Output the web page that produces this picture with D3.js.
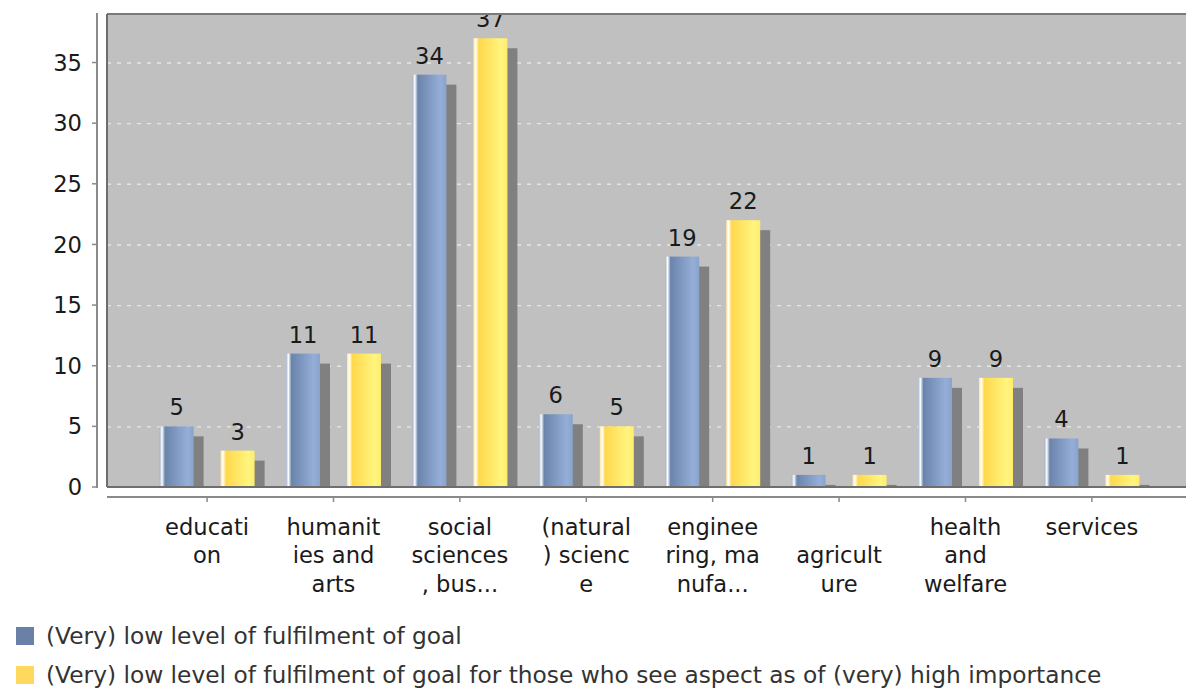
<!DOCTYPE html>
<html><head><meta charset="utf-8">
<script src="https://cdn.jsdelivr.net/npm/d3@7"></script>
<style>body{margin:0;background:#fff;} svg{display:block;font-family:"DejaVu Sans",sans-serif;}</style>
</head><body><svg id="c" width="1186" height="690"></svg>
<script>
const categories = ["education","humanities and arts","social sciences, business and law","(natural) science","engineering, manufacturing and construction","agriculture","health and welfare","services"];
const categoryLabelLines = [["educati","on"],["humanit","ies and","arts"],["social","sciences",", bus..."],["(natural",") scienc","e"],["enginee","ring, ma","nufa..."],["","agricult","ure"],["health","and","welfare"],["services"]];
const seriesNames = ["(Very) low level of fulfilment of goal","(Very) low level of fulfilment of goal for those who see aspect as of (very) high importance"];
const seriesLow = [5,11,34,6,19,1,9,4];
const seriesLowHighImportance = [3,11,37,5,22,1,9,1];
const yTicks = [0,5,10,15,20,25,30,35];

const series = [seriesLow, seriesLowHighImportance];
const svg = d3.select("#c");
const P = {left:107, top:14, right:1192, bottom:487};
const FS = 22.6;
const LFS = 23.3;

const x = d3.scaleBand().domain(categories).range([P.left, P.right]).paddingInner(0).paddingOuter(0.292);
const xs = d3.scaleBand().domain([0,1]).range([-47.5, 47.5]).paddingInner(0.4426);
const y = d3.scaleLinear().domain([0,39]).range([P.bottom, P.top]);

const defs = svg.append("defs");
const gradStops = [
  [["0%","#a3b2cc"],["7%","#ffffff"],["16%","#6b84ab"],["82%","#94aed8"],["100%","#8aa3cd"]],
  [["0%","#ffe793"],["7%","#ffffff"],["16%","#ffd84c"],["82%","#fff57f"],["100%","#ffec6c"]]
];
gradStops.forEach((st,i)=>{
  const g = defs.append("linearGradient").attr("id","g"+i).attr("x1","0").attr("x2","1").attr("y1","0").attr("y2","0");
  st.forEach(s=>g.append("stop").attr("offset",s[0]).attr("stop-color",s[1]));
});
defs.append("clipPath").attr("id","plotClip").append("rect")
  .attr("x",P.left).attr("y",P.top).attr("width",P.right-P.left).attr("height",P.bottom-P.top);

// plot background
svg.append("rect").attr("x",P.left).attr("y",P.top).attr("width",P.right-P.left).attr("height",P.bottom-P.top).attr("fill","#c0c0c0");

// gridlines
svg.append("g").selectAll("line").data(yTicks.filter(t=>t>0)).join("line")
  .attr("x1",P.left).attr("x2",P.right).attr("y1",d=>y(d)+0.5).attr("y2",d=>y(d)+0.5)
  .attr("stroke","#e6e6e6").attr("stroke-width",1.4).attr("stroke-dasharray","4,6");

const plotG = svg.append("g").attr("clip-path","url(#plotClip)");
const SH = 10;
series.forEach((vals,si)=>{
  plotG.append("g").selectAll("rect").data(vals).join("rect")
    .attr("x",(d,i)=>x(categories[i])+x.bandwidth()/2+xs(si)+SH)
    .attr("y",d=>y(d)+SH)
    .attr("width",xs.bandwidth())
    .attr("height",d=>Math.max(0,P.bottom-y(d)))
    .attr("fill","#808080");
});
series.forEach((vals,si)=>{
  plotG.append("g").selectAll("rect").data(vals).join("rect")
    .attr("x",(d,i)=>x(categories[i])+x.bandwidth()/2+xs(si))
    .attr("y",d=>y(d))
    .attr("width",xs.bandwidth())
    .attr("height",d=>P.bottom-y(d))
    .attr("fill","url(#g"+si+")");
});
series.forEach((vals,si)=>{
  plotG.append("g").selectAll("text").data(vals).join("text")
    .attr("x",(d,i)=>x(categories[i])+x.bandwidth()/2+xs(si)+xs.bandwidth()/2)
    .attr("y",d=>y(d)-11)
    .attr("text-anchor","middle").attr("font-size",FS).attr("fill","#1a1a1a")
    .text(d=>d);
});

// plot border
svg.append("line").attr("x1",P.left).attr("x2",P.right).attr("y1",P.top).attr("y2",P.top).attr("stroke","#7a7a7a").attr("stroke-width",2);
svg.append("line").attr("x1",P.left).attr("x2",P.left).attr("y1",P.top).attr("y2",P.bottom).attr("stroke","#6e6e6e").attr("stroke-width",2);
svg.append("line").attr("x1",P.left).attr("x2",P.right).attr("y1",P.bottom).attr("y2",P.bottom).attr("stroke","#6e6e6e").attr("stroke-width",2);

// y axis
const yAxisG = svg.append("g");
yAxisG.append("line").attr("x1",97).attr("x2",97).attr("y1",P.top-1).attr("y2",P.bottom+1).attr("stroke","#8a8a8a").attr("stroke-width",2);
yAxisG.selectAll("line.t").data(yTicks).join("line").attr("class","t")
  .attr("x1",92).attr("x2",97).attr("y1",d=>y(d)).attr("y2",d=>y(d)).attr("stroke","#8a8a8a").attr("stroke-width",1.5);
yAxisG.selectAll("text").data(yTicks).join("text")
  .attr("x",82).attr("y",d=>y(d)).attr("dy","0.36em").attr("text-anchor","end")
  .attr("font-size",FS).attr("fill","#1a1a1a").text(d=>d);

// x axis
const xAxisY = 497;
svg.append("line").attr("x1",P.left).attr("x2",P.right).attr("y1",xAxisY).attr("y2",xAxisY).attr("stroke","#8a8a8a").attr("stroke-width",2);
svg.append("g").selectAll("line").data(categories).join("line")
  .attr("x1",d=>x(d)+x.bandwidth()/2).attr("x2",d=>x(d)+x.bandwidth()/2)
  .attr("y1",xAxisY).attr("y2",xAxisY+5).attr("stroke","#8a8a8a").attr("stroke-width",1.5);
const labG = svg.append("g");
categories.forEach((c,i)=>{
  const t = labG.append("text").attr("text-anchor","middle").attr("font-size",FS).attr("fill","#1a1a1a");
  categoryLabelLines[i].forEach((ln,j)=>{
    t.append("tspan").attr("x",x(c)+x.bandwidth()/2).attr("y",535+j*28.3).text(ln);
  });
});

// legend
const legColors = ["#6a80a6","#ffd95e"];
const lg = svg.append("g");
seriesNames.forEach((n,i)=>{
  const cy = 636 + i*39;
  lg.append("rect").attr("x",16).attr("y",cy-9).attr("width",18).attr("height",18).attr("fill",legColors[i]);
  lg.append("text").attr("x",46).attr("y",cy).attr("dy","0.36em").attr("font-size",LFS).attr("fill","#333").text(n);
});
</script></body></html>
